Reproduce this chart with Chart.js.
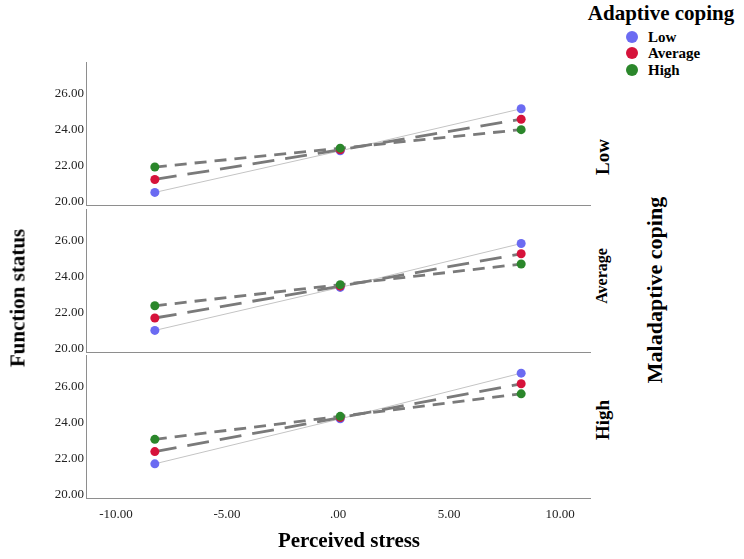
<!DOCTYPE html>
<html>
<head>
<meta charset="utf-8">
<script src="https://cdn.jsdelivr.net/npm/chart.js@4/dist/chart.umd.min.js"></script>
<style>
  body { margin: 0; background: #fff; }
  #wrap { position: relative; width: 744px; height: 559px; font-family: "Liberation Serif", serif; color: #000; }
  #wrap canvas { position: absolute; left: 0; }
  .lbl { position: absolute; white-space: nowrap; font-weight: bold; transform: translate(-50%, -50%); }
  .rot { transform: translate(-50%, -50%) rotate(-90deg); }
  .dot { position: absolute; width: 12px; height: 12px; border-radius: 50%; transform: translate(-50%, -50%); }
</style>
</head>
<body>
<div id="wrap">
  <canvas id="p0" width="592" height="145" style="top:62px"></canvas>
  <canvas id="p1" width="592" height="145" style="top:209px"></canvas>
  <canvas id="p2" width="592" height="175" style="top:355px"></canvas>

  <div class="lbl" style="left:661px; top:13px; font-size:21px;">Adaptive coping</div>
  <div class="dot" style="left:632px; top:37px; background:#6b6bf2;"></div>
  <div class="dot" style="left:632px; top:53px; background:#d6133b;"></div>
  <div class="dot" style="left:632px; top:70px; background:#2b872b;"></div>
  <div class="lbl" style="left:648px; top:37px; font-size:15px; transform:translate(0,-50%);">Low</div>
  <div class="lbl" style="left:648px; top:53px; font-size:15px; transform:translate(0,-50%);">Average</div>
  <div class="lbl" style="left:648px; top:70px; font-size:15px; transform:translate(0,-50%);">High</div>

  <div class="lbl rot" style="left:603px; top:157px; font-size:19px;">Low</div>
  <div class="lbl rot" style="left:602px; top:276px; font-size:16px;">Average</div>
  <div class="lbl rot" style="left:603px; top:420px; font-size:19px;">High</div>

  <div class="lbl rot" style="left:655px; top:290px; font-size:22px;">Maladaptive coping</div>
  <div class="lbl rot" style="left:18px; top:298px; font-size:21px;">Function status</div>
  <div class="lbl" style="left:349px; top:540px; font-size:21px;">Perceived stress</div>
</div>

<script>
// perceived stress at -1 SD, mean, +1 SD
const stressX = [-8.25, 0.1, 8.25];
const xTicks = [-10, -5, 0, 5, 10];
const yTicks = [20, 22, 24, 26];

// function status, panel = maladaptive coping level, series = adaptive coping level
const lowMalLowAd = [20.5, 22.81, 25.15];
const lowMalAvgAd = [21.22, 22.87, 24.57];
const lowMalHighAd = [21.91, 22.96, 23.99];

const avgMalLowAd = [21.0, 23.39, 25.83];
const avgMalAvgAd = [21.69, 23.46, 25.26];
const avgMalHighAd = [22.37, 23.54, 24.69];

const highMalLowAd = [21.7, 24.2, 26.74];
const highMalAvgAd = [22.38, 24.27, 26.15];
const highMalHighAd = [23.06, 24.34, 25.59];

const panels = [
  [lowMalLowAd, lowMalAvgAd, lowMalHighAd],
  [avgMalLowAd, avgMalAvgAd, avgMalHighAd],
  [highMalLowAd, highMalAvgAd, highMalHighAd]
];

const dotColors = ["#6b6bf2", "#d6133b", "#2b872b"];
const lineStyles = [
  { borderColor: "#c4c4c4", borderWidth: 1, borderDash: [] },
  { borderColor: "#7a7a7a", borderWidth: 2.8, borderDash: [22, 11] },
  { borderColor: "#7a7a7a", borderWidth: 2.8, borderDash: [12, 8] }
];

const fmt = v => v.toFixed(2).replace(/^(-?)0\./, "$1.");
const tickFont = { family: "Liberation Serif", size: 13 };

// chart.js pads scales for edge labels, the panels need the full height
const noPad = s => { s.paddingTop = 0; s.paddingBottom = 0; s.paddingLeft = 0; s.paddingRight = 0; };

panels.forEach((series, i) => {
  const last = i === panels.length - 1;
  new Chart(document.getElementById("p" + i), {
    type: "line",
    data: {
      datasets: series.map((vals, k) => ({
        data: vals.map((y, j) => ({ x: stressX[j], y })),
        ...lineStyles[k],
        pointRadius: 4.5,
        pointBorderWidth: 0,
        pointBackgroundColor: dotColors[k],
        order: 3 - k
      }))
    },
    options: {
      responsive: false,
      animation: false,
      events: [],
      layout: { autoPadding: false, padding: { left: 0, right: 2, top: 0, bottom: 0 } },
      plugins: { legend: { display: false }, tooltip: { enabled: false } },
      scales: {
        x: {
          type: "linear",
          min: -11.35,
          max: 11.35,
          afterBuildTicks: s => { s.ticks = xTicks.map(v => ({ value: v })); },
          afterFit: s => { s.height = last ? 32 : 2; noPad(s); },
          grid: { display: false, drawTicks: false },
          border: { color: "#8e8e8e", width: 1 },
          ticks: { display: last, padding: 9, font: tickFont, color: "#222", maxRotation: 0, callback: fmt }
        },
        y: {
          min: 19.8,
          max: 27.75,
          afterBuildTicks: s => { s.ticks = yTicks.map(v => ({ value: v })); },
          afterFit: s => { s.width = 86; noPad(s); },
          grid: { display: false, drawTicks: false },
          border: { color: "#8e8e8e", width: 1 },
          ticks: { padding: 2, font: tickFont, color: "#222", callback: fmt }
        }
      }
    }
  });
});
</script>
</body>
</html>
